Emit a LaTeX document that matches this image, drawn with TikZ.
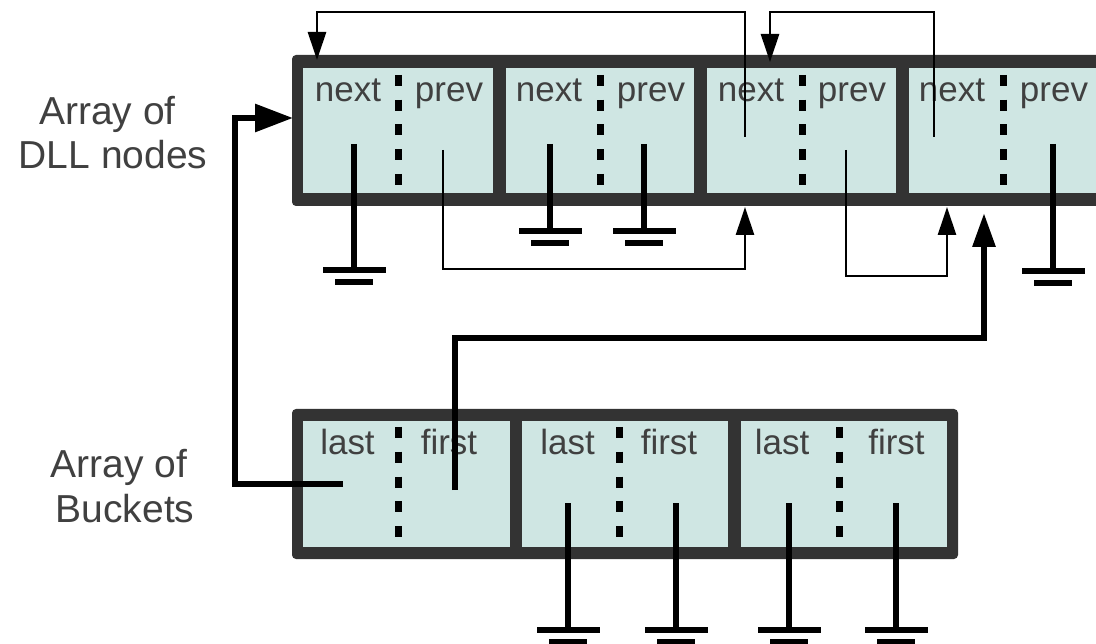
\documentclass[tikz,border=0pt]{standalone}
\usepackage{fontspec}
\setmainfont{Liberation Sans}
\usetikzlibrary{arrows.meta}
\definecolor{framec}{RGB}{51,51,51}
\definecolor{cellfill}{RGB}{207,230,227}
\definecolor{txt}{RGB}{64,64,64}
\begin{document}
\begin{tikzpicture}[x=1pt,y=-1pt,
  frm/.style={fill=framec, draw=none, rounded corners=4pt, inner sep=0pt, outer sep=0pt},
  cellbox/.style={fill=cellfill, draw=none, inner sep=0pt, outer sep=0pt, minimum height=#1},
  lbl/.style={text=txt, font=\fontsize{35}{40}\selectfont, anchor=base, inner sep=0pt},
  side/.style={text=txt, font=\fontsize{39}{44}\selectfont, anchor=base, inner sep=0pt},
  divider/.style={line width=7pt, dash pattern=on 11pt off 13.75pt},
  thinptr/.style={line width=2.6pt, -{Triangle[length=28pt,width=18pt]}},
  thinline/.style={line width=2.6pt},
  thickline/.style={line width=6pt},
  thickptr/.style={line width=6pt, -{Triangle[#1]}},
  gnd/.pic={\fill (-31.5,0) rectangle (31.5,6); \fill (-19,12) rectangle (19,18);}
]
\useasboundingbox (0,0) rectangle (1096,644);

% ---------- DLL node array ----------
\node[frm, minimum width=819pt, minimum height=151pt] (dframe) at (701.5,130.5) {};
\node[cellbox=125pt, minimum width=190pt] (d1) at (398,130.5) {};
\node[cellbox=125pt, minimum width=188pt] (d2) at (600,130.5) {};
\node[cellbox=125pt, minimum width=189pt] (d3) at (801.5,130.5) {};
\node[cellbox=125pt, minimum width=189pt] (d4) at (1003.5,130.5) {};

\foreach \x in {398,600,802,1003}{\draw[divider] (\x,75) -- (\x,185);}

\node[lbl] (n1) at (348,102) {next};
\node[lbl] (p1) at (449,102) {prev};
\node[lbl] (n2) at (549,102) {next};
\node[lbl] (p2) at (651,102) {prev};
\node[lbl] (n3) at (751,102) {next};
\node[lbl] (p3) at (852,102) {prev};
\node[lbl] (n4) at (952,102) {next};
\node[lbl] (p4) at (1054,102) {prev};

% ---------- Bucket array ----------
\node[frm, minimum width=666pt, minimum height=150pt] (bframe) at (625,484) {};
\node[cellbox=126pt, minimum width=207pt] (b1) at (406.5,484) {};
\node[cellbox=126pt, minimum width=206pt] (b2) at (625,484) {};
\node[cellbox=126pt, minimum width=206pt] (b3) at (844,484) {};

\foreach \x in {398,619,839}{\draw[divider] (\x,427) -- (\x,539);}

\node[lbl] (l1) at (347.5,455) {last};
\node[lbl] (f1) at (449,455) {first};
\node[lbl] (l2) at (567.5,455) {last};
\node[lbl] (f2) at (669,455) {first};
\node[lbl] (l3) at (782,455) {last};
\node[lbl] (f3) at (896.5,455) {first};

% ---------- side labels ----------
\node[side] (t1a) at (107.5,125) {Array of};
\node[side] (t1b) at (113,169) {DLL nodes};
\node[side] (t2a) at (119,478) {Array of};
\node[side] (t2b) at (125,522) {Buckets};

% ---------- pointer coordinates ----------
\coordinate (d1next) at (354,144);  \coordinate (g1) at (354,267);
\coordinate (d2next) at (550,144);  \coordinate (g2) at (550,228);
\coordinate (d2prev) at (644,144);  \coordinate (g3) at (644,228);
\coordinate (d4prev) at (1053,144); \coordinate (g4) at (1053,268);
\coordinate (b2last) at (568,503);  \coordinate (g5) at (568,627);
\coordinate (b2first) at (676,503); \coordinate (g6) at (676,627);
\coordinate (b3last) at (789,503);  \coordinate (g7) at (789,627);
\coordinate (b3first) at (896,503); \coordinate (g8) at (896,627);

\foreach \a/\b in {d1next/g1,d2next/g2,d2prev/g3,d4prev/g4,b2last/g5,b2first/g6,b3last/g7,b3first/g8}{
  \draw[thickline] (\a) -- (\b);
  \pic at (\b) {gnd};
}

% thin DLL links
\coordinate (d1prev) at (443,150);  \coordinate (d3bot) at (745,207);
\coordinate (d3next) at (745,137);  \coordinate (d1top) at (317,60);
\coordinate (d4next) at (934,137);  \coordinate (d3top) at (770,62);
\coordinate (d3prev) at (846,150);  \coordinate (d4bot) at (947,207);

\draw[thinptr] (d1prev) -- (443,269) -- (745,269) -- (d3bot);
\draw[thinptr] (d3next) -- (745,12) -- (317,12) -- (d1top);
\draw[thinptr] (d4next) -- (934,12) -- (770,12) -- (d3top);
\draw[thinptr] (d3prev) -- (846,276) -- (947,276) -- (d4bot);

% thick bucket links
\coordinate (b1last) at (343,484);  \coordinate (d1left) at (293,118);
\coordinate (b1first) at (455,490); \coordinate (d4bot2) at (984,213);
\draw[thickptr={length=38pt,width=27pt}] (b1last) -- (235,484) -- (235,118) -- (d1left);
\draw[thickptr={length=34pt,width=22pt}] (b1first) -- (455,338) -- (984,338) -- (d4bot2);

\end{tikzpicture}
\end{document}
